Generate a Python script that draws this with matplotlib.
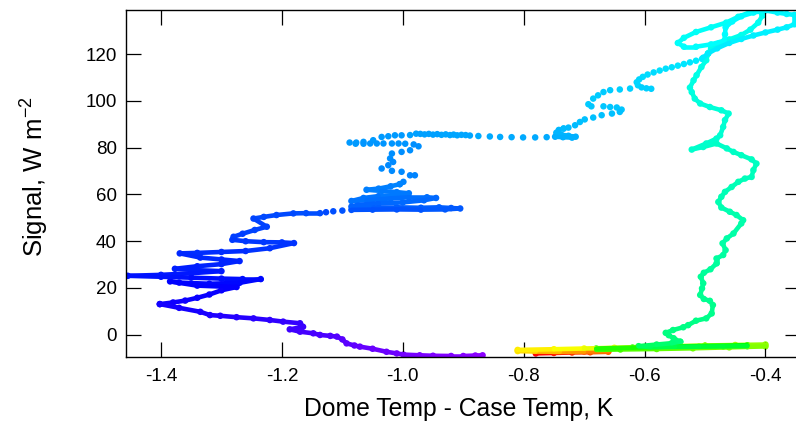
import matplotlib
matplotlib.use('Agg')
import matplotlib.pyplot as plt
import numpy as np
from matplotlib.collections import LineCollection

plt.rcParams['font.family'] = ['Liberation Sans', 'DejaVu Sans']
plt.rcParams['axes.unicode_minus'] = False
plt.rcParams['mathtext.fontset'] = 'custom'
plt.rcParams['mathtext.rm'] = 'Liberation Sans'
plt.rcParams['mathtext.default'] = 'regular'

# ---- data (time order: red -> purple) ----
red_x = [-0.78, -0.75, -0.72, -0.69, -0.66]
red_y = [-8.0, -7.8, -7.6, -7.5, -7.3]
orange_x = [-0.66, -0.70, -0.74, -0.78, -0.81]
orange_y = [-7.0, -7.2, -7.3, -7.2, -7.0]
yellow_x = [-0.81, -0.75, -0.70, -0.65, -0.60, -0.55, -0.50, -0.45, -0.40]
yellow_y = [-6.5, -6.2, -5.9, -5.6, -5.2, -4.9, -4.6, -4.4, -4.2]
lime_x = [-0.40, -0.46, -0.52, -0.58, -0.64, -0.68]
lime_y = [-5.0, -5.4, -5.8, -6.1, -6.3, -6.5]
green_x = [-0.68, -0.62, -0.56, -0.50, -0.43]
green_y = [-5.9, -5.5, -5.1, -4.8, -4.5]
spring_x = [-0.43, -0.47, -0.51, -0.55, -0.59, -0.61, -0.58, -0.555, -0.541]
spring_y = [-4.9, -5.0, -5.1, -5.2, -5.3, -4.9, -4.2, -3.6, -3.0]

wig_x = [-0.541, -0.552, -0.560, -0.565, -0.553, -0.536, -0.528, -0.515, -0.498, -0.489,
         -0.487, -0.492, -0.502, -0.508, -0.505, -0.503, -0.507, -0.502, -0.491, -0.481,
         -0.481, -0.470, -0.466, -0.471, -0.464, -0.453, -0.440, -0.437, -0.448, -0.459,
         -0.473, -0.478, -0.473, -0.467, -0.456, -0.445, -0.434, -0.423, -0.420, -0.415,
         -0.423, -0.440, -0.453, -0.464, -0.481, -0.503, -0.522, -0.498, -0.481, -0.475,
         -0.470, -0.467, -0.461, -0.473, -0.492, -0.508, -0.517, -0.522, -0.525, -0.519,
         -0.514, -0.506, -0.498, -0.495]
wig_y = [-3.0, -1.5, -0.2, 0.8, 2.0, 3.2, 4.1, 6.0, 7.0, 9.1,
         12.7, 14.5, 15.3, 17.0, 19.8, 22.0, 24.8, 26.5, 28.0, 30.5,
         32.6, 34.1, 36.2, 39.1, 41.2, 43.3, 47.6, 49.0, 51.2, 52.6,
         54.4, 56.8, 59.0, 61.1, 63.2, 65.4, 66.8, 67.5, 70.4, 73.2,
         75.0, 76.8, 78.2, 79.7, 81.8, 80.3, 79.2, 81.8, 83.9, 85.3,
         88.9, 91.8, 94.6, 96.0, 97.4, 98.9, 101.0, 103.8, 105.7, 108.8,
         111.0, 114.5, 117.4, 120.3]

top_x = [-0.495, -0.49, -0.478, -0.46, -0.44, -0.425, -0.412, -0.405, -0.41, -0.425,
         -0.445, -0.465, -0.49, -0.515, -0.535, -0.545, -0.535, -0.515, -0.49, -0.468,
         -0.467, -0.466, -0.455, -0.44, -0.42, -0.40, -0.38, -0.365, -0.352, -0.352,
         -0.365, -0.38, -0.40, -0.42, -0.44, -0.46, -0.48, -0.495, -0.503]
top_y = [120.3, 122.5, 124.5, 126.3, 128.2, 130.5, 133.5, 136.5, 138.5, 138.0,
         136.0, 133.5, 131.5, 129.5, 127.0, 124.8, 123.2, 123.2, 124.2, 125.8,
         128.5, 131.5, 134.0, 136.2, 137.8, 138.7, 137.8, 137.2, 136.8, 132.8,
         131.5, 130.5, 129.3, 128.0, 126.5, 124.8, 122.5, 120.3, 118.5]

desc_x = [-0.505, -0.515, -0.525, -0.535, -0.545, -0.555, -0.565, -0.575, -0.585, -0.595,
          -0.603, -0.609, -0.613, -0.611, -0.605, -0.597, -0.589]
desc_y = [118.0, 117.2, 116.5, 115.8, 115.1, 114.4, 113.8, 113.0, 112.2, 111.3,
          110.3, 109.2, 108.0, 106.7, 105.8, 105.4, 105.2]

sp_x = [-0.624, -0.641, -0.657, -0.668, -0.677, -0.685, -0.693, -0.688, -0.668, -0.657,
        -0.646, -0.638, -0.641, -0.654, -0.671, -0.685, -0.699, -0.707, -0.715, -0.726, -0.734]
sp_y = [105.3, 104.9, 104.6, 103.8, 102.4, 101.0, 98.6, 97.7, 97.7, 97.4,
        97.2, 96.3, 95.3, 94.6, 93.9, 92.9, 92.1, 91.0, 89.6, 88.6, 88.2]

blob_x = [-0.734, -0.742, -0.746, -0.738, -0.726, -0.714, -0.720, -0.735, -0.748]
blob_y = [88.2, 87.6, 86.4, 85.6, 85.1, 84.7, 84.3, 84.5, 84.7]

l85_x = [-0.762, -0.781, -0.801, -0.820, -0.839, -0.856, -0.875, -0.889,
         -0.896, -0.903, -0.910, -0.916, -0.922, -0.929, -0.936, -0.943, -0.950, -0.957,
         -0.964, -0.971, -0.978,
         -0.988, -1.002, -1.013, -1.024, -1.035, -1.049, -1.065, -1.077, -1.088]
l85_y = [84.5, 84.4, 84.4, 84.5, 84.6, 84.8, 85.0, 85.2,
         85.4, 85.5, 85.3, 85.6, 85.4, 85.7, 85.5, 85.8, 85.6, 85.9,
         85.7, 85.9, 86.0,
         85.4, 85.3, 85.3, 84.9, 84.6, 83.2, 82.5, 82.2, 82.2]

row2_x = [-1.078, -1.065, -1.054, -1.043, -1.032, -1.018, -1.007, -0.996, -0.982, -0.974]
row2_y = [81.7, 81.7, 81.8, 81.8, 81.8, 81.8, 81.8, 81.7, 81.4, 80.6]

down_x = [-0.988, -1.002, -1.018, -1.021, -1.016, -1.024, -1.035, -1.018, -1.002, -0.988,
          -0.980, -0.999, -1.005]
down_y = [78.9, 78.2, 77.5, 75.4, 73.9, 72.5, 71.1, 70.1, 69.7, 68.2,
          68.2, 65.4, 64.4]

clus_x = [-1.005, -1.02, -1.04, -1.06, -1.035, -1.01, -0.99, -1.01, -1.04, -1.065,
          -1.085, -1.06, -1.02, -0.99, -0.96, -0.945, -0.965, -1.00, -1.04, -1.075,
          -1.085, -1.05, -1.01, -0.97, -0.94, -0.92, -0.905, -0.93, -0.97, -1.01,
          -1.05, -1.085]
clus_y = [64.4, 63.5, 62.5, 62.0, 61.5, 61.0, 60.5, 59.8, 59.3, 58.5,
          57.2, 57.5, 58.3, 58.8, 58.8, 58.5, 57.5, 56.6, 56.2, 55.5,
          54.8, 54.5, 54.5, 54.3, 54.5, 54.2, 54.0, 53.6, 53.5, 53.6,
          53.5, 53.4]

link_x = [-1.100, -1.115, -1.127]
link_y = [53.1, 52.8, 52.4]

zz_x = [-1.137, -1.16, -1.181, -1.209, -1.23, -1.247, -1.225, -1.245, -1.265, -1.28,
        -1.282, -1.26, -1.23, -1.20, -1.18, -1.22, -1.26, -1.30, -1.34, -1.369,
        -1.335, -1.30, -1.27, -1.30, -1.34, -1.377, -1.34, -1.30, -1.35, -1.40,
        -1.455, -1.40, -1.35, -1.30, -1.265, -1.235, -1.27, -1.32, -1.37, -1.385,
        -1.34, -1.30, -1.275, -1.30, -1.32, -1.34, -1.36, -1.38, -1.402]
zz_y = [52.0, 52.0, 51.9, 51.2, 50.4, 49.7, 46.2, 44.8, 43.2, 41.9,
        40.6, 40.0, 39.6, 39.5, 39.2, 37.0, 35.8, 35.4, 35.0, 34.8,
        33.0, 32.2, 31.5, 30.2, 29.3, 28.2, 27.6, 27.2, 26.3, 25.6,
        25.2, 24.8, 24.4, 24.0, 23.8, 23.8, 22.2, 21.8, 22.3, 22.8,
        21.0, 20.6, 20.4, 19.0, 17.2, 15.8, 14.6, 13.8, 13.1]

pur_x = [-1.402, -1.37, -1.335, -1.319, -1.302, -1.275, -1.247, -1.22, -1.198, -1.170,
         -1.165, -1.187, -1.170, -1.148, -1.137, -1.12, -1.109, -1.10, -1.093, -1.08,
         -1.071, -1.05, -1.027, -1.01, -0.999, -0.972, -0.95, -0.92, -0.90, -0.88, -0.868]
pur_y = [13.1, 11.5, 9.8, 8.4, 8.1, 7.5, 7.0, 6.3, 5.6, 4.9,
         3.4, 2.3, 1.3, 0.6, -0.1, -0.5, -0.8, -2.0, -3.7, -4.6,
         -5.1, -6.0, -7.3, -8.0, -8.5, -8.8, -9.0, -9.1, -9.1, -8.9, -8.8]

x_ticks = [-1.4, -1.2, -1.0, -0.8, -0.6, -0.4]
y_ticks = [0, 20, 40, 60, 80, 100, 120]

# segment: x, y, colour position start, end, drawn as continuous trace or dots
segments = [
    (red_x, red_y, 0.03, 0.11, 'line'),
    (orange_x, orange_y, 0.11, 0.20, 'line'),
    (yellow_x, yellow_y, 0.20, 0.30, 'line'),
    (lime_x, lime_y, 0.30, 0.36, 'line'),
    (green_x, green_y, 0.37, 0.41, 'line'),
    (spring_x, spring_y, 0.43, 0.49, 'line'),
    (wig_x, wig_y, 0.49, 0.57, 'line'),
    (top_x, top_y, 0.57, 0.60, 'line'),
    (desc_x, desc_y, 0.60, 0.62, 'dots'),
    (sp_x, sp_y, 0.62, 0.635, 'dots'),
    (blob_x, blob_y, 0.635, 0.645, 'line'),
    (l85_x, l85_y, 0.645, 0.66, 'dots'),
    (row2_x, row2_y, 0.66, 0.665, 'dots'),
    (down_x, down_y, 0.665, 0.675, 'dots'),
    (clus_x, clus_y, 0.675, 0.71, 'line'),
    (link_x, link_y, 0.71, 0.715, 'dots'),
    (zz_x, zz_y, 0.712, 0.78, 'line'),
    (pur_x, pur_y, 0.78, 0.87, 'line'),
]

W, H = 796, 421
fig = plt.figure(figsize=(W / 100, H / 100), dpi=100)
ax = fig.add_axes([125.7 / W, 1 - 356.7 / H, (800 - 125.7) / W, (356.7 - 10) / H])
cmap = plt.get_cmap('gist_rainbow')

for xs, ys, c0, c1, kind in segments:
    xs = np.asarray(xs, float)
    ys = np.asarray(ys, float)
    cpos = np.linspace(c0, c1, len(xs))
    if kind == 'line':
        pts = np.column_stack([xs, ys]).reshape(-1, 1, 2)
        segs = np.concatenate([pts[:-1], pts[1:]], axis=1)
        lc = LineCollection(segs, colors=cmap((cpos[:-1] + cpos[1:]) / 2),
                            linewidths=3.3, capstyle='round', joinstyle='round')
        ax.add_collection(lc)
    ax.scatter(xs, ys, s=22, c=cmap(cpos), edgecolors='none')

ax.set_xlim(-1.4584, -0.3429)
ax.set_ylim(-9.4, 138.9)
ax.set_xticks(x_ticks)
ax.set_xticklabels([f'{v:.1f}' for v in x_ticks])
ax.set_yticks(y_ticks)
ax.set_yticklabels([str(v) for v in y_ticks])
ax.tick_params(direction='in', length=10.8, width=0.9, top=True, right=True,
               labelsize=13.5, colors='black')
ax.tick_params(axis='y', pad=6.5)
ax.tick_params(axis='x', pad=8)
for sp in ax.spines.values():
    sp.set_linewidth(1.0)
    sp.set_color('black')

fig.text(459 / W, 1 - 409 / H, 'Dome Temp - Case Temp, K', fontsize=17.8,
         ha='center', va='center')
fig.text(35 / W, 1 - 177 / H, 'Signal, W m$^{-2}$', fontsize=18.5,
         ha='center', va='center', rotation=90)

fig.savefig('out.png', dpi=100)
